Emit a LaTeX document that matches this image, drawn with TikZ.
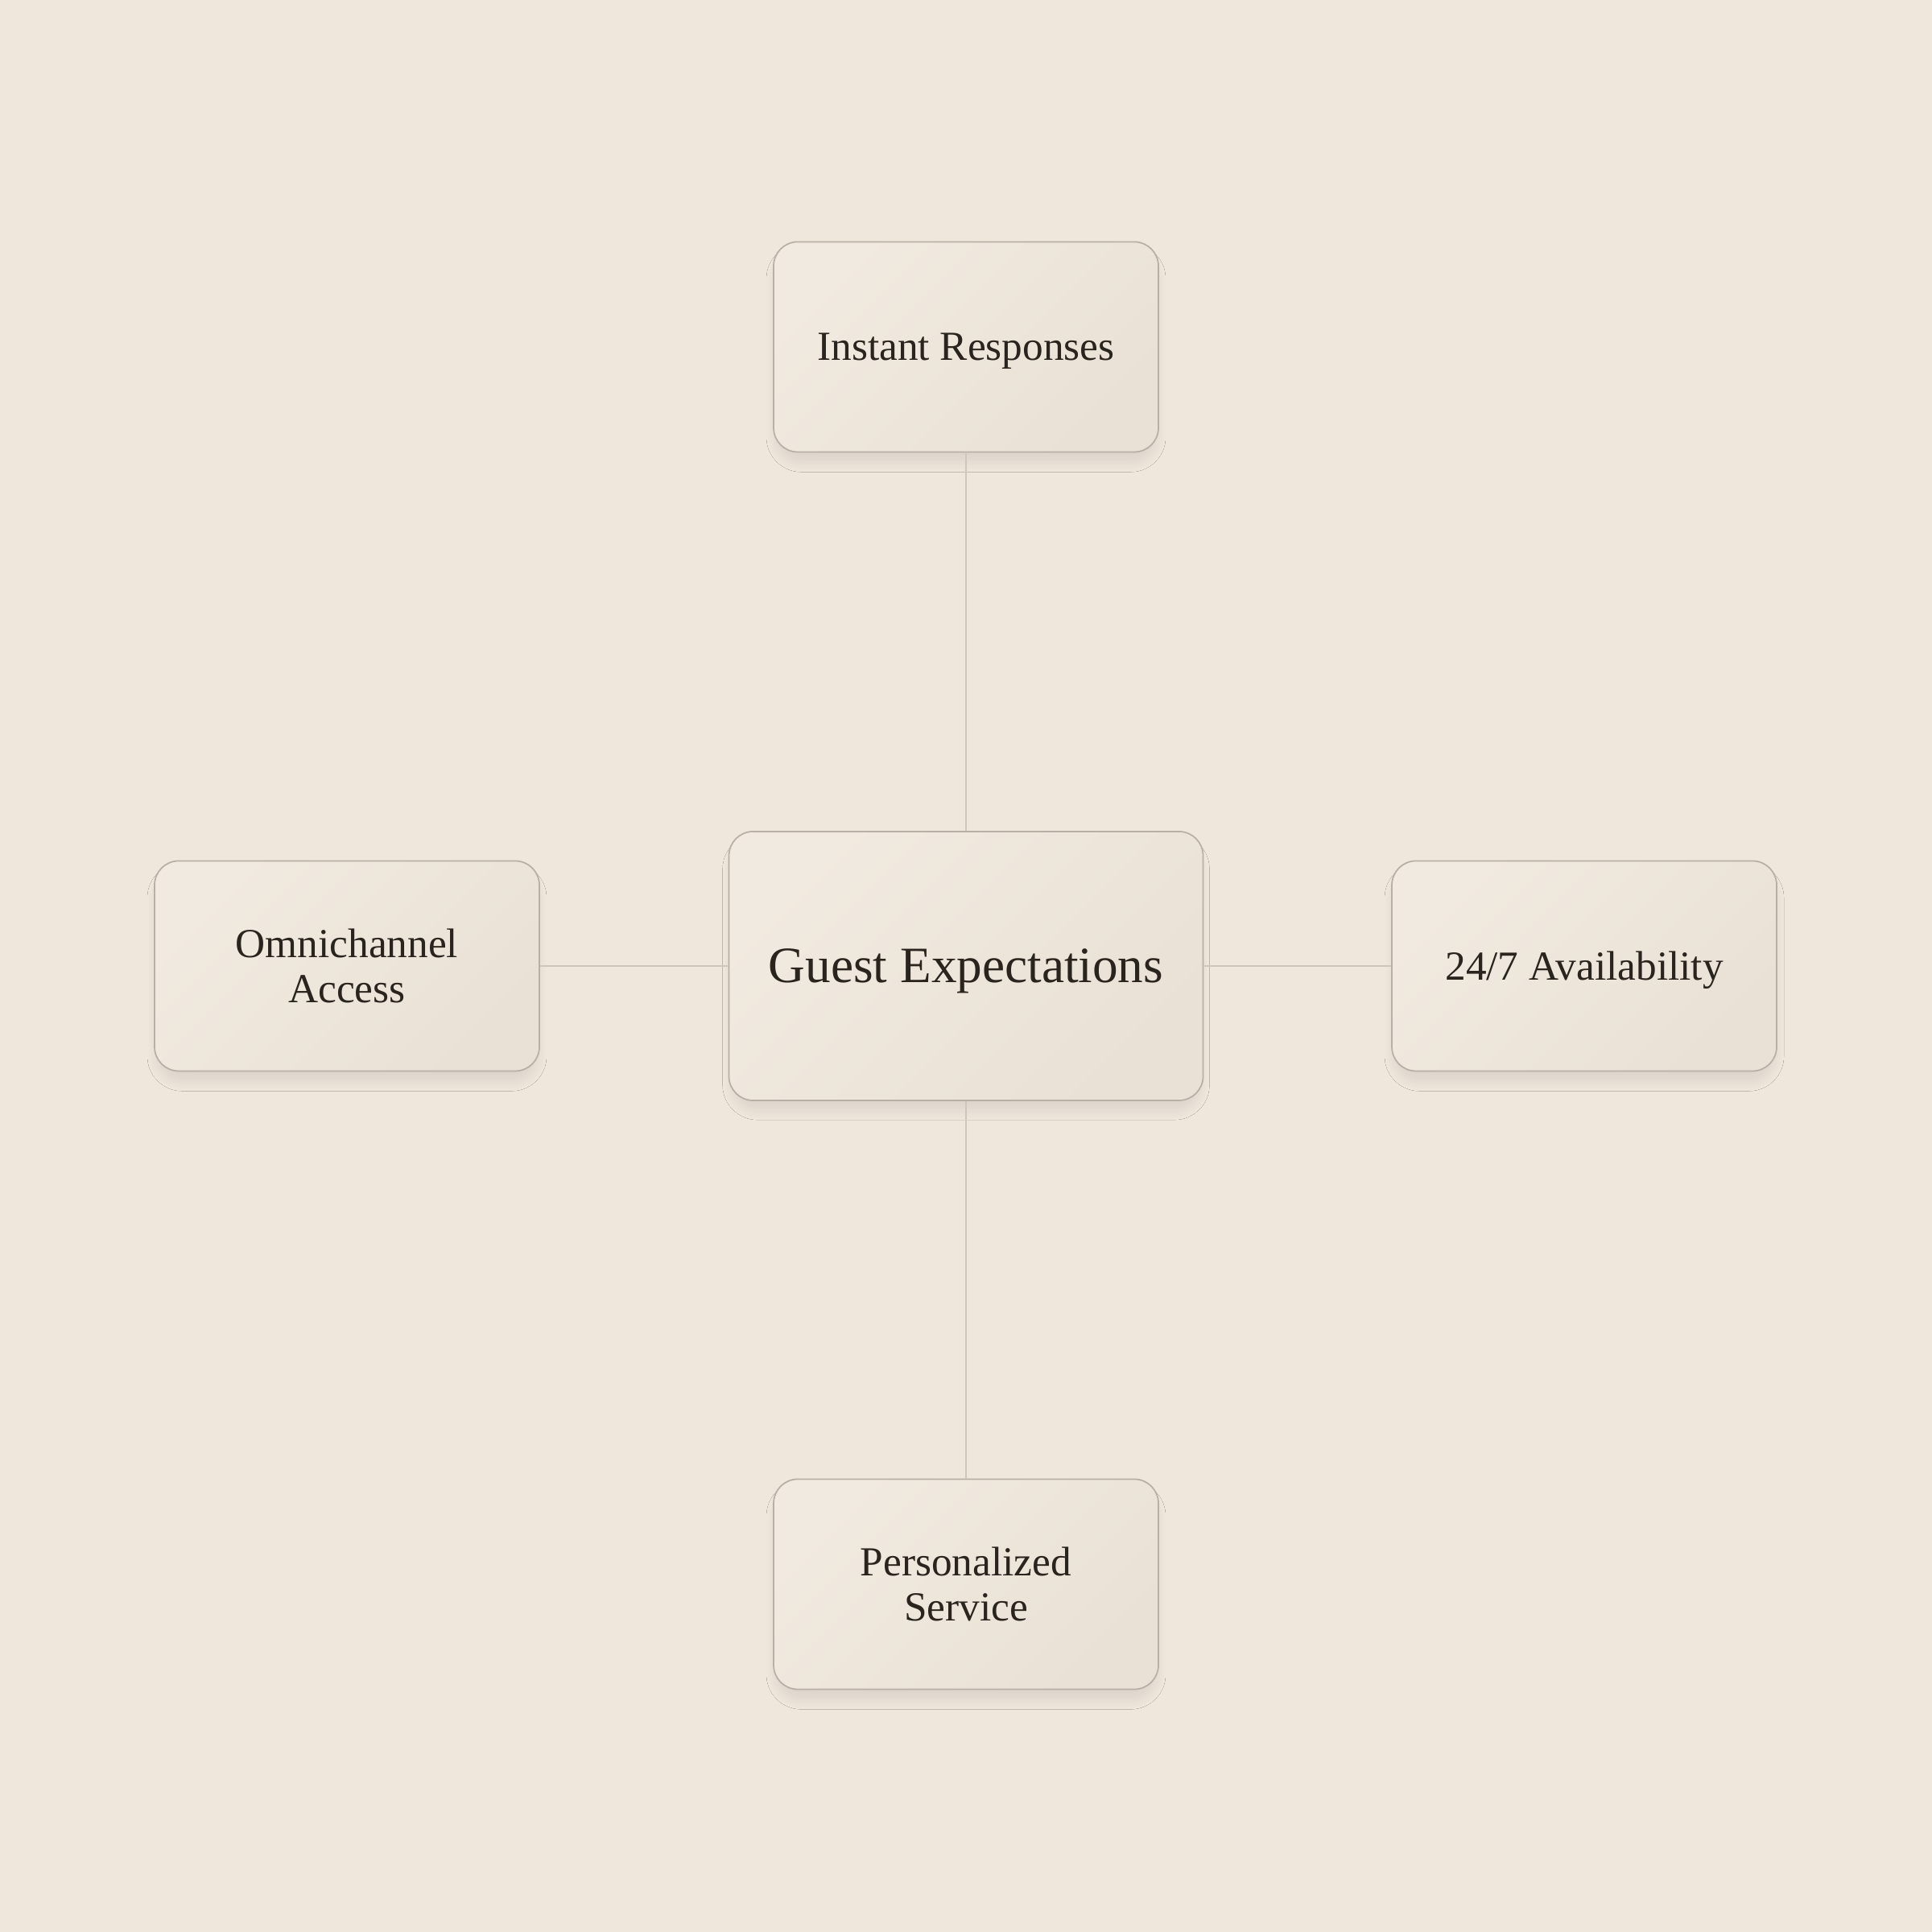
\documentclass[tikz,border=0pt]{standalone}
\usepackage{fontspec}
\setmainfont{Liberation Serif}
\usetikzlibrary{shadows.blur}
\definecolor{paper}{RGB}{239,230,220}
\definecolor{boxlight}{RGB}{241,234,224}
\definecolor{boxdark}{RGB}{233,225,213}
\definecolor{boxline}{RGB}{184,176,166}
\definecolor{linkline}{RGB}{207,199,189}
\definecolor{ink}{RGB}{42,36,31}
\tikzset{
    card/.style={draw=boxline, line width=0.5pt, rounded corners=0.3cm,
        top color=boxlight, bottom color=boxdark, shading angle=45,
        blur shadow={shadow xshift=0cm, shadow yshift=-0.14cm, shadow scale=0.98,
            shadow blur radius=0.14cm, shadow blur steps=14, shadow opacity=9},
        text=ink, align=center, inner sep=0pt},
    hubcard/.style={card, minimum width=5.89cm, minimum height=3.34cm,
        text depth=0pt, font=\fontsize{18}{20}\selectfont},
    leafcard/.style={card, minimum width=4.78cm, minimum height=2.61cm, font=\fontsize{14.6}{15.8}\selectfont},
    link/.style={draw=linkline, line width=0.5pt}
}
\begin{document}
\begin{tikzpicture}
    \fill[paper] (0, 0) rectangle (24, 24);
    \useasboundingbox (0, 0) rectangle (24, 24);
    \node[hubcard] (hub) at (12, 12) {Guest Expectations};
    \node[leafcard, text depth=0pt] (instant) at (12, 19.69) {Instant Responses};
    \node[leafcard] (omni) at (4.31, 12) {Omnichannel\\Access};
    \node[leafcard, text depth=0pt] (always) at (19.68, 12) {24/7 Availability};
    \node[leafcard] (personal) at (12, 4.32) {Personalized\\Service};
    \draw[link] (instant) -- (hub);
    \draw[link] (omni) -- (hub);
    \draw[link] (always) -- (hub);
    \draw[link] (personal) -- (hub);
\end{tikzpicture}
\end{document}
